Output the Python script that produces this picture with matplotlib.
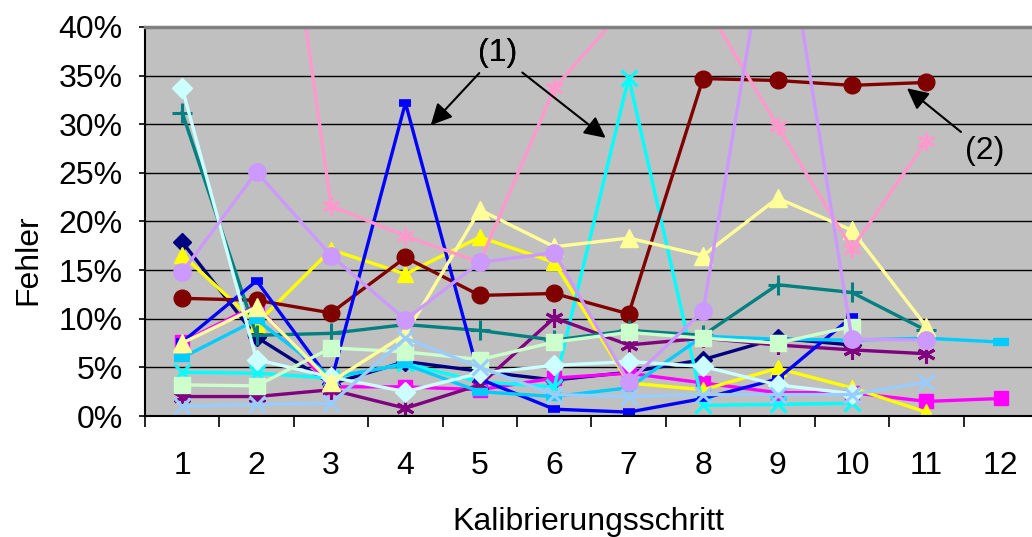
import numpy as np
import matplotlib
matplotlib.use("Agg")
import matplotlib.pyplot as plt

nan = np.nan

# Kalibrierungsschritt 1..12, Fehler in %
steps = np.arange(1, 13)

navy = [17.9, 8.1, 3.3, 5.6, 4.6, 3.7, 4.5, 5.8, 8.0, 7.3, nan, nan]
magenta = [7.6, 11.4, 3.0, 3.0, 2.7, 3.9, 4.4, 3.4, 2.4, 2.4, 1.5, 1.8]
yellow = [16.6, 9.5, 17.1, 14.6, 18.4, 15.8, 3.4, 2.7, 4.9, 2.9, 0.4, nan]
cyan = [4.5, 4.4, 3.9, 5.4, 3.5, 3.0, 34.8, 1.1, 1.2, 1.3, nan, nan]
purple = [2.0, 2.0, 2.7, 0.8, 3.2, 10.1, 7.3, 8.0, 7.3, 6.8, 6.4, nan]
darkred = [12.1, 11.9, 10.6, 16.3, 12.4, 12.6, 10.5, 34.7, 34.5, 34.0, 34.3, nan]
teal = [31.2, 8.3, 8.5, 9.4, 8.8, 7.8, 8.8, 8.3, 13.5, 12.7, 8.8, nan]
blue = [7.6, 13.9, 3.5, 32.2, 3.8, 0.7, 0.4, 1.8, 3.8, 10.2, nan, nan]
skyblue = [6.0, 9.9, 4.0, 5.3, 2.5, 2.0, 2.9, 8.2, 7.9, 7.8, 8.0, 7.6]
lightcyan = [33.7, 5.8, 4.0, 2.5, 4.4, 5.2, 5.6, 5.1, 3.2, 2.3, nan, nan]
lightgreen = [3.2, 3.1, 7.0, 6.6, 5.8, 7.6, 8.6, 8.0, 7.5, 9.2, nan, nan]
lightyellow = [7.5, 11.2, 3.5, 8.4, 21.2, 17.4, 18.3, 16.5, 22.4, 19.1, 9.2, nan]
lightblue = [1.0, 1.2, 1.3, 8.0, 5.0, 2.2, 2.0, 2.2, 2.2, 2.2, 3.5, nan]
pink = [nan, 76.0, 21.6, 18.5, 15.8, 33.7, 42.4, 42.7, 29.8, 17.2, 28.3, nan]
lavender = [14.8, 25.1, 16.5, 9.9, 15.8, 16.8, 3.5, 10.8, 56.0, 7.9, 7.8, nan]

yticks = [0, 5, 10, 15, 20, 25, 30, 35, 40]

plt.rcParams['font.family'] = ['Liberation Sans', 'DejaVu Sans']

fig = plt.figure(figsize=(10.32, 5.37), dpi=100)
ax = fig.add_axes([145 / 1032, 1 - 416 / 537, 1 - 145 / 1032, (416 - 27) / 537])
ax.set_facecolor('#C0C0C0')

asterisk = (6, 2, 0)
series = [
    (navy, '#000080', 'D', 9, 1.0),
    (magenta, '#FF00FF', 's', 10, 1.0),
    (yellow, '#FFFF00', '^', 12, 1.0),
    (cyan, '#00FFFF', 'x', 11, 2.2),
    (purple, '#800080', asterisk, 13, 2.2),
    (darkred, '#800000', 'o', 12, 1.0),
    (teal, '#008080', '+', 14, 2.2),
    (blue, '#0000FF', '_', 8, 5.5),
    (skyblue, '#00CCFF', '_', 12, 6.0),
    (lightcyan, '#CCFFFF', 'D', 10, 1.0),
    (lightgreen, '#CCFFCC', 's', 11.5, 1.0),
    (lightyellow, '#FFFF99', '^', 13, 1.0),
    (lightblue, '#99CCFF', 'x', 12, 2.2),
    (pink, '#FF99CC', asterisk, 13, 2.2),
    (lavender, '#CC99FF', 'o', 12.5, 1.0),
]

for vals, col, mk, ms, mew in series:
    ax.plot(steps, vals, color=col, lw=2.4, marker=mk, ms=ms,
            markerfacecolor=col, markeredgecolor=col, markeredgewidth=mew)

ax.set_xlim(0.5, 12.42)
ax.set_ylim(0, 40)
ax.set_yticks(yticks)
ax.set_yticklabels([f"{v}%" for v in yticks], fontsize=23)
ax.set_xticks(steps)
ax.set_xticklabels([str(s) for s in steps], fontsize=23)
ax.set_xticks(np.arange(0.5, 12.5, 1.0), minor=True)
ax.tick_params(axis='x', which='major', length=0, pad=25)
ax.tick_params(axis='x', which='minor', length=8, width=1.2, direction='out')
ax.tick_params(axis='y', which='major', length=4, width=1.2, pad=12)

for v in yticks[1:-1]:
    ax.axhline(v, color='black', lw=1.0, zorder=1)

ax.spines['top'].set_color('#808080')
ax.spines['top'].set_linewidth(2.5)
ax.spines['right'].set_visible(False)
ax.spines['left'].set_linewidth(1.5)
ax.spines['bottom'].set_linewidth(1.5)

arrow = dict(arrowstyle='-|>', color='black', lw=1.5, mutation_scale=32,
             shrinkA=2, shrinkB=0)
ax.annotate('(1)', xy=(4.34, 29.9), xytext=(5.24, 37.3), fontsize=23,
            ha='center', va='center', arrowprops=arrow)
ax.annotate('(1)', xy=(6.69, 28.6), xytext=(5.24, 37.3), fontsize=23,
            ha='center', va='center', arrowprops=arrow)
ax.annotate('(2)', xy=(10.74, 33.7), xytext=(11.79, 27.2), fontsize=23,
            ha='center', va='center', arrowprops=arrow)

fig.text(28 / 1032, 1 - 260 / 537, 'Fehler', rotation=90, fontsize=23,
         ha='center', va='center')
fig.text(588 / 1032, 1 - 522 / 537, 'Kalibrierungsschritt', fontsize=23,
         ha='center', va='center')

fig.savefig('out.png', dpi=100)
